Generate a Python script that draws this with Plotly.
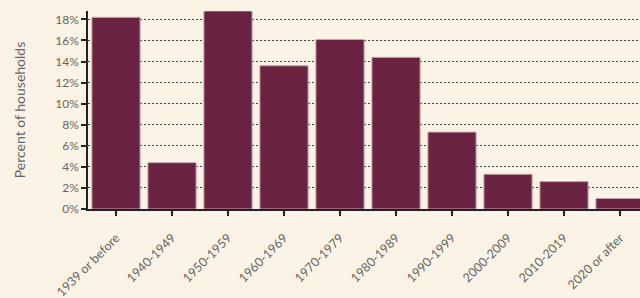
import plotly.graph_objects as go

categories = ["1939 or before", "1940-1949", "1950-1959", "1960-1969", "1970-1979",
              "1980-1989", "1990-1999", "2000-2009", "2010-2019", "2020 or after"]
values = [18.2, 4.4, 18.8, 13.6, 16.1, 14.4, 7.3, 3.3, 2.6, 1.0]
y_ticks = [0, 2, 4, 6, 8, 10, 12, 14, 16, 18]
y_title = "Percent of households"

bg = "#faf3e6"
bar_color = "#6a2340"

fig = go.Figure()
fig.add_trace(go.Bar(
    x=list(range(len(categories))),
    y=values,
    marker=dict(color=bar_color, line=dict(color="#c9a3ad", width=1)),
    width=0.86,
    hoverinfo="skip",
))

fig.update_layout(
    width=640, height=298,
    paper_bgcolor=bg, plot_bgcolor=bg,
    margin=dict(l=88, r=0, t=11, b=89, autoexpand=False),
    showlegend=False,
    font=dict(family="Lato, 'Noto Sans', sans-serif", color="#666666"),
)
fig.update_xaxes(
    tickmode="array",
    tickvals=list(range(len(categories))),
    ticktext=categories,
    tickangle=-45,
    range=[-0.5, 9.357],
    automargin=False,
    showgrid=False,
    showline=True, linecolor="#222222", linewidth=1.5,
    ticks="outside", ticklen=5, tickcolor="#222222", tickwidth=1.5,
    tickfont=dict(size=12.5, color="#666666"),
    ticklabelstandoff=10,
    zeroline=False,
)
fig.update_yaxes(
    range=[0, 18.8],
    automargin=False,
    tickmode="array",
    tickvals=y_ticks,
    ticktext=[f"{v}%" for v in y_ticks],
    showgrid=True, gridcolor="#444444", griddash="1.5px,2.5px", gridwidth=1.2,
    showline=True, linecolor="#222222", linewidth=1.5,
    ticks="outside", ticklen=5, tickcolor="#222222", tickwidth=1.5,
    tickfont=dict(size=12, color="#666666"),
    zeroline=False,
    title=dict(text=y_title, font=dict(size=14, color="#666666"), standoff=26),
)

fig.write_html("out.html", config={"displayModeBar": False},
               post_script="document.body.style.margin='0';document.body.style.overflow='hidden';")
